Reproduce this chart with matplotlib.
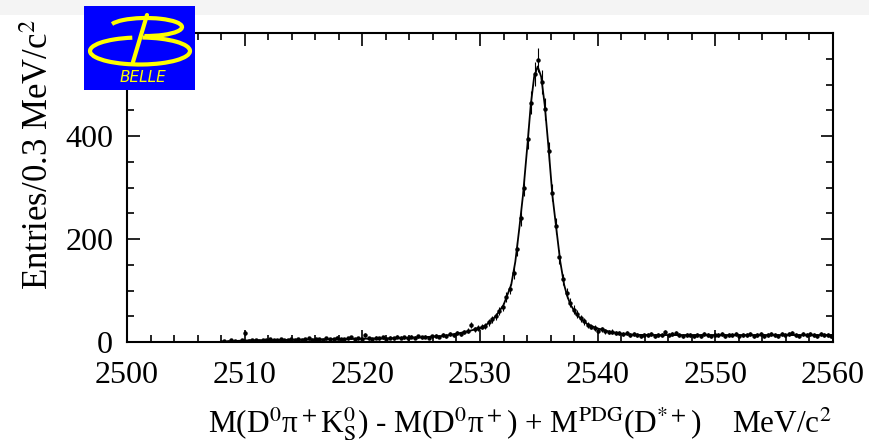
import matplotlib
matplotlib.use('Agg')
import matplotlib.pyplot as plt
import numpy as np
from matplotlib.patches import Rectangle, Arc
from matplotlib.ticker import MultipleLocator, FixedLocator

# histogram: 0.3 MeV bins starting at 2500, first filled bin is #26 (threshold ~2507.9)
bin_lo = 2500.0
bin_w = 0.3
first_bin = 26

counts = [
    1, 2, 1, 3, 2, 1, 3, 18, 2, 4, 3, 2, 4, 3, 5, 3, 4, 6, 3, 4,
    5, 3, 6, 4, 5, 7, 4, 5, 6, 4, 7, 5, 6, 8, 5, 6, 7, 9, 5, 7,
    6, 13, 7, 6, 8, 7, 9, 6, 8, 7, 10, 8, 9, 7, 10, 8, 11, 9, 10, 8,
    11, 12, 10, 13, 12, 15, 14, 17, 15, 19, 22, 33, 25, 27, 30, 31, 38, 44, 50, 60,
    68, 88, 103, 134, 180, 240, 300, 395, 465, 520, 548, 505, 452, 370, 290, 225, 165, 122, 95, 76,
    63, 55, 46, 40, 33, 30, 27, 22, 25, 21, 19, 20, 17, 18, 15, 17, 14, 15, 13, 12,
    14, 13, 16, 12, 14, 13, 19, 14, 15, 18, 13, 12, 14, 13, 11, 14, 12, 15, 13, 11,
    14, 13, 15, 12, 14, 13, 16, 12, 14, 13, 15, 11, 14, 16, 12, 13, 15, 14, 12, 16,
    13, 15, 17, 14, 12, 15, 13, 16, 14, 12, 15, 13, 14, 12,
]

# fitted curve
fit_x = [2500.0, 2507.9, 2508.0, 2510.0, 2513.0, 2516.0, 2519.0, 2522.0, 2525.0, 2527.0,
         2528.0, 2529.0, 2530.0, 2530.5, 2531.0, 2531.4, 2532.0, 2532.3, 2532.65, 2533.0,
         2533.34, 2533.65, 2534.03, 2534.31, 2534.6, 2534.9, 2535.2, 2535.5, 2535.8, 2536.15,
         2536.48, 2536.82, 2537.15, 2537.4, 2537.7, 2538.25, 2539.1, 2539.9, 2541.0, 2542.0,
         2543.0, 2545.0, 2550.0, 2555.0, 2560.0]
fit_y = [0, 0, 0.5, 3, 4, 5, 6, 7, 9, 12,
         16, 21, 27, 33, 42, 52, 72, 90, 111, 156,
         221, 285, 383, 460, 515, 535, 515, 460, 383, 285,
         221, 156, 111, 90, 72, 52, 35, 27, 20, 16,
         14, 13.5, 13.5, 13.5, 13.5]

y_ticks = [0, 200, 400]

plt.rcParams['font.family'] = ['Liberation Serif', 'DejaVu Serif']
plt.rcParams['mathtext.fontset'] = 'stix'

centres = bin_lo + bin_w * (np.arange(len(counts)) + first_bin + 0.5)
errs = np.sqrt(counts)

fig = plt.figure(figsize=(8.7, 4.42), dpi=100)
fig.add_artist(Rectangle((0, 1 - 15 / 442), 1, 15 / 442, transform=fig.transFigure,
                         facecolor='#f4f4f4', edgecolor='none', zorder=0))

ax = fig.add_axes([0.146, 0.2262, 0.8115, 0.6991])
ax.errorbar(centres, counts, yerr=errs, fmt='o', ms=2.2, color='black',
            elinewidth=0.8, capsize=0)
ax.plot(fit_x, fit_y, color='black', lw=1.3)
ax.set_xlim(2500, 2560)
ax.set_ylim(0, 600)

ax.xaxis.set_major_locator(MultipleLocator(10))
ax.xaxis.set_minor_locator(MultipleLocator(2))
ax.yaxis.set_major_locator(FixedLocator(y_ticks))
ax.yaxis.set_minor_locator(MultipleLocator(50))
ax.tick_params(which='both', direction='in', top=True, right=True, width=1.2)
ax.tick_params(which='major', length=9, labelsize=23)
ax.tick_params(axis='x', which='major', pad=14)
ax.tick_params(axis='y', which='major', pad=10)
ax.tick_params(which='minor', length=5)
for s in ax.spines.values():
    s.set_linewidth(1.5)

ax.set_ylabel('Entries/0.3 MeV/c$^2$', fontsize=25)
ax.yaxis.set_label_coords(-0.10, 0.605)
ax.set_xlabel('M(D$^0$π$^+$K$^0_{\\rm S}$) - M(D$^0$π$^+$) + M$^{\\rm PDG}$(D$^{*+}$)    MeV/c$^2$',
              fontsize=22.5)
ax.xaxis.set_label_coords(0.557, -0.205)

# Belle logo
lax = fig.add_axes([84 / 870, 1 - 90 / 442, 111 / 870, 84 / 442])
lax.set_xlim(84, 195)
lax.set_ylim(0, 84)
lax.axis('off')
lax.add_patch(Rectangle((84, 0), 111, 84, color='#0000ff'))
yel = '#ffff00'
lax.add_patch(Arc((146, 63), 72, 18, theta1=-100, theta2=175, color=yel, lw=3))
lax.add_patch(Arc((140, 39), 100, 27, theta1=120, theta2=440, color=yel, lw=3))
lax.plot([147, 133], [75, 28], color=yel, lw=3, solid_capstyle='round')
lax.text(143, 13, 'BELLE', color=yel, fontsize=11, style='italic',
         family='DejaVu Sans', ha='center', va='center')

fig.savefig('out.png', dpi=100)
